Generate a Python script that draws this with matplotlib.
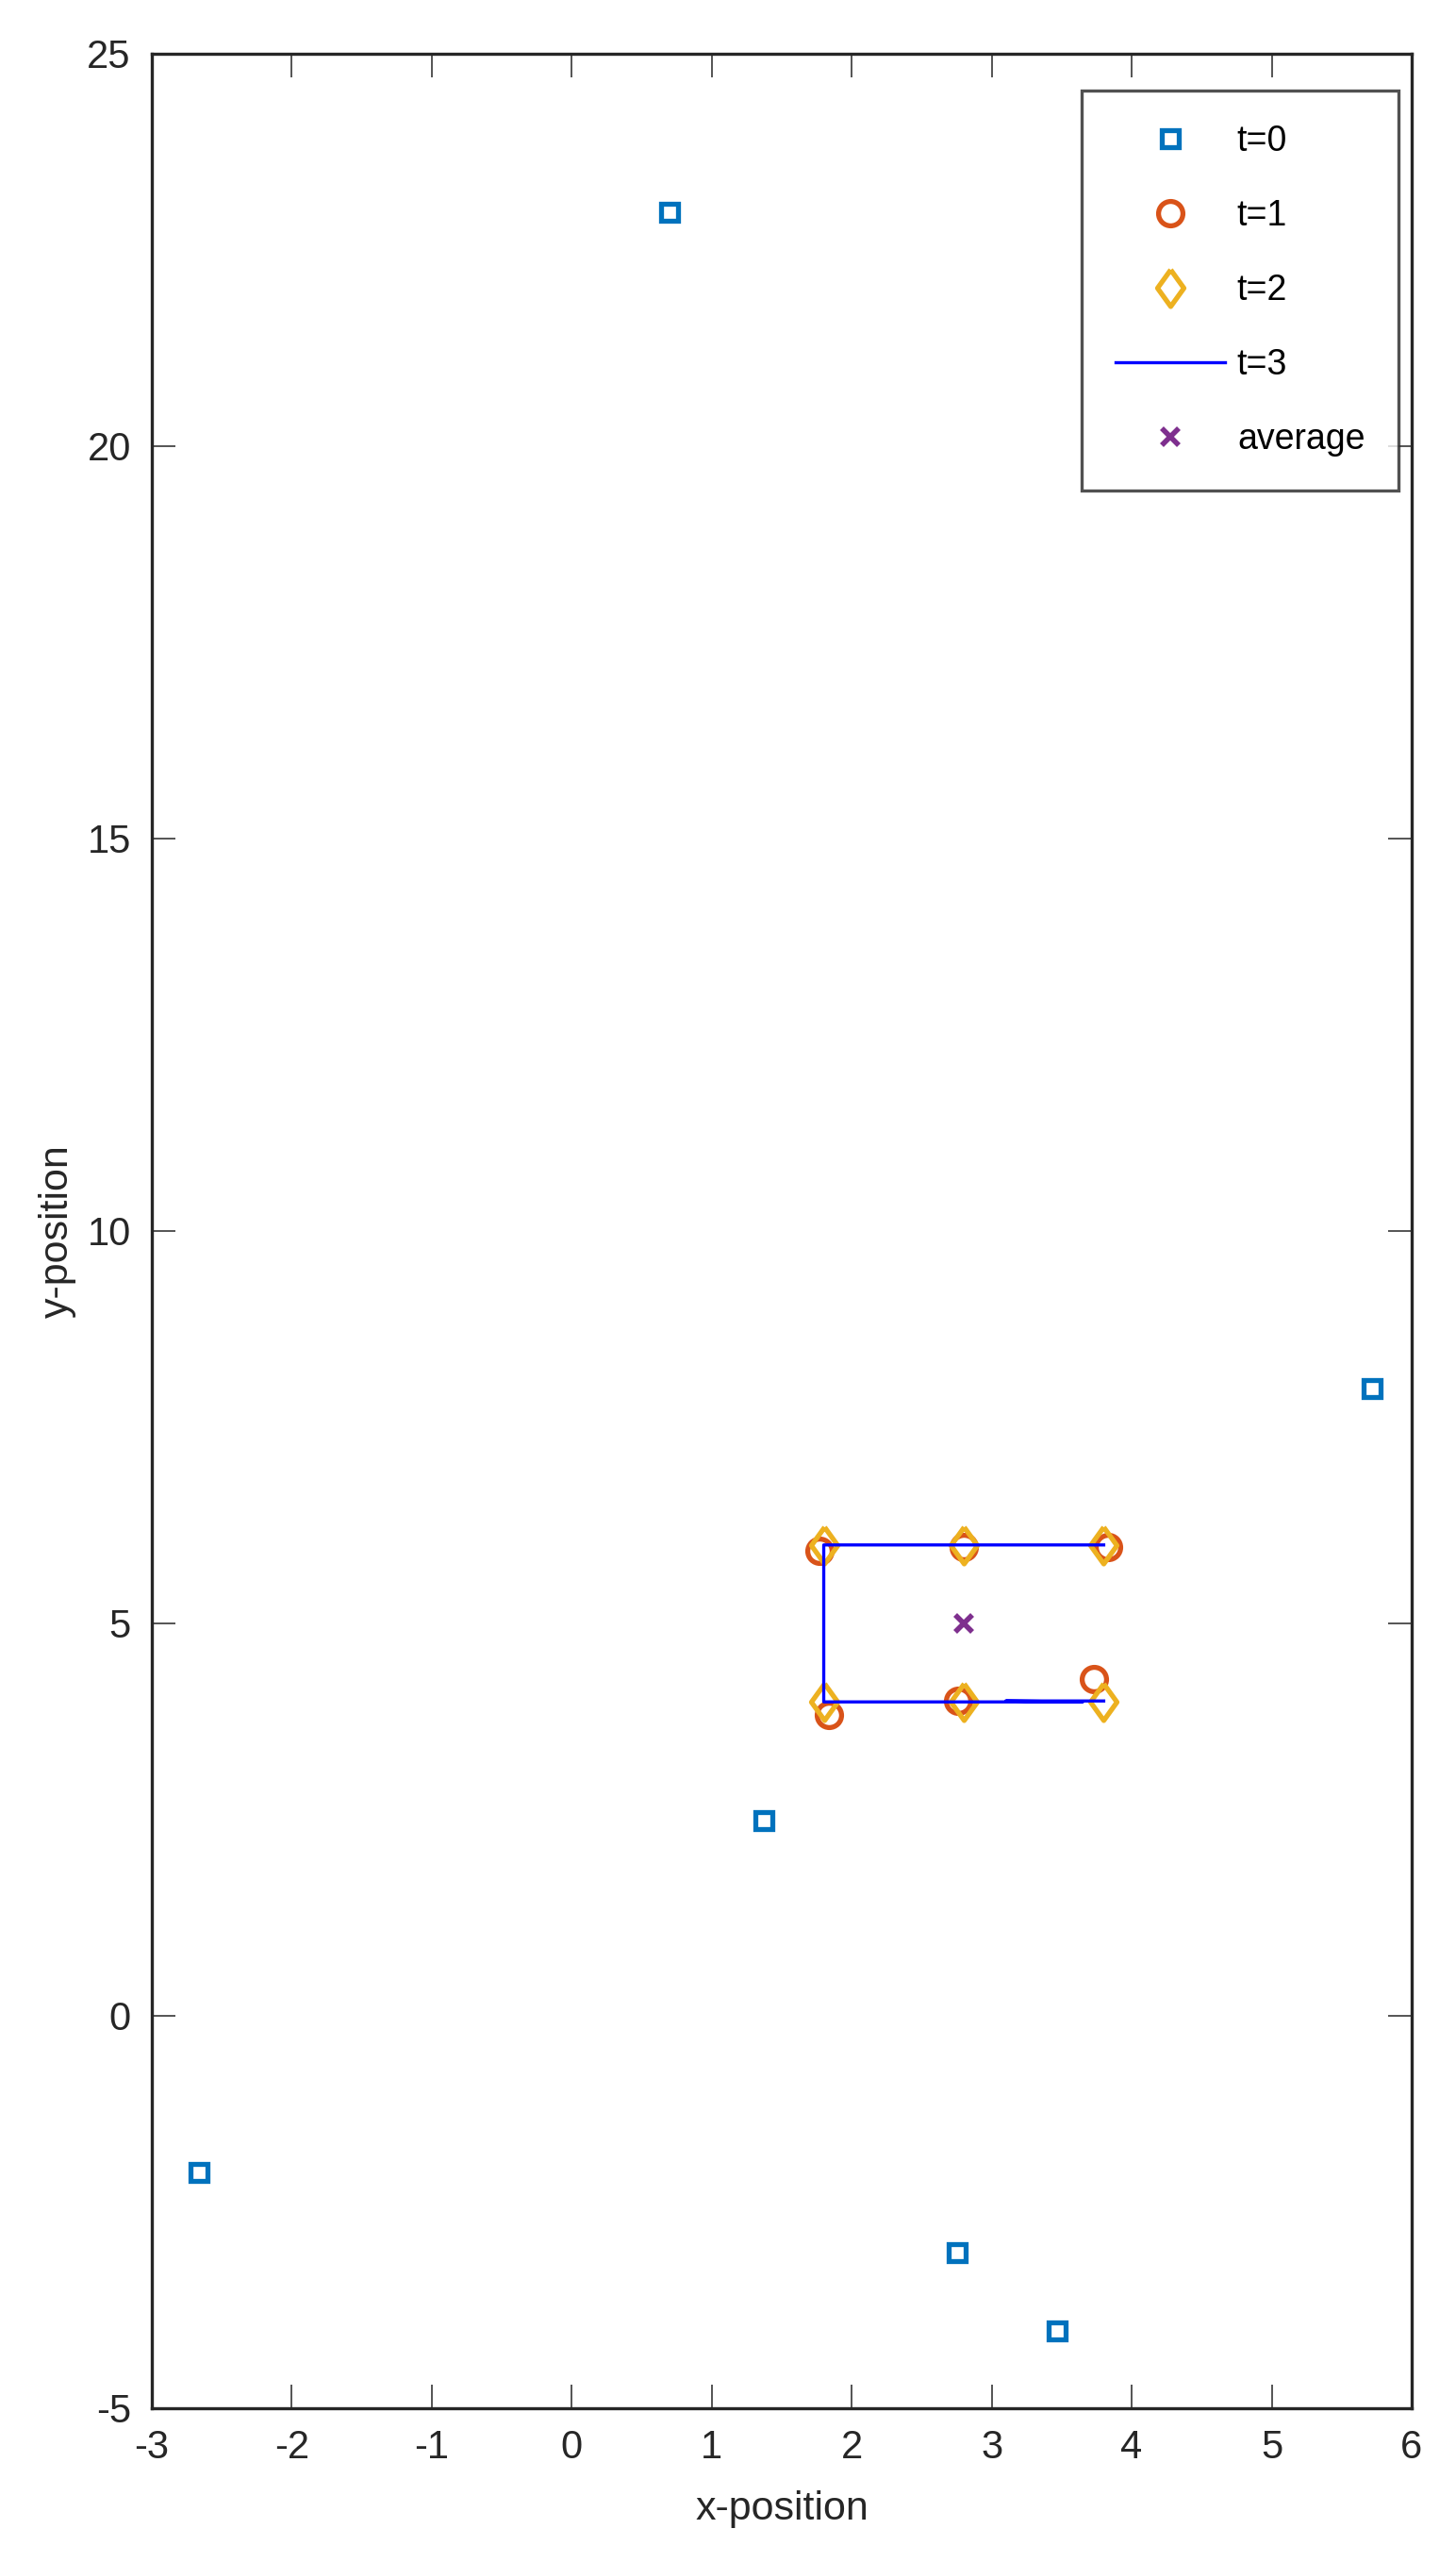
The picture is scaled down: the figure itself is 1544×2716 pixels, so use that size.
import matplotlib
matplotlib.use("Agg")
import matplotlib.pyplot as plt

plt.rcParams['font.family'] = ['Liberation Sans', 'DejaVu Sans']

# t=0 positions
x0 = [0.70, 5.72, 1.37, -2.66, 2.75, 3.47]
y0 = [22.98, 7.99, 2.49, -2.00, -3.02, -4.02]
# t=1 positions
x1 = [1.77, 2.80, 3.83, 1.84, 2.76, 3.73]
y1 = [5.92, 5.97, 5.97, 3.84, 4.02, 4.29]
# t=2 positions
x2 = [1.80, 2.80, 3.80, 1.80, 2.80, 3.80]
y2 = [6.00, 6.00, 6.00, 4.00, 4.00, 4.00]
# t=3 path
x3 = [3.80, 2.80, 1.80, 1.80, 2.80, 3.65, 3.10, 3.80]
y3 = [6.00, 6.00, 6.00, 4.00, 4.00, 4.00, 4.012, 4.012]
# average
xa = [2.80]
ya = [5.00]

xticks = list(range(-3, 7))
yticks = [-5, 0, 5, 10, 15, 20, 25]

W, H, DPI = 1544, 2716, 200
fig = plt.figure(figsize=(W / DPI, H / DPI), dpi=DPI)
ax = fig.add_axes([161 / W, 1 - 2553 / H, (1497 - 161) / W, (2553 - 57) / H])

diamond = [(0, 1), (0.72, 0), (0, -1), (-0.72, 0), (0, 1)]

ax.plot(x0, y0, linestyle='none', marker='s', markersize=6.2, markeredgewidth=1.9,
        markerfacecolor='none', markeredgecolor='#0072BD', label='t=0')
ax.plot(x1, y1, linestyle='none', marker='o', markersize=9.3, markeredgewidth=1.9,
        markerfacecolor='none', markeredgecolor='#D95319', label='t=1')
ax.plot(x2, y2, linestyle='none', marker=diamond, markersize=14, markeredgewidth=1.9,
        markerfacecolor='none', markeredgecolor='#EDB120', label='t=2')
ax.plot(x3, y3, color='#0000FF', linewidth=1.2, label='t=3')
ax.plot(xa, ya, linestyle='none', marker='x', markersize=6.5, markeredgewidth=2.0,
        color='#7E2F8E', label='average')

ax.set_xlim(-3, 6)
ax.set_ylim(-5, 25)
ax.set_xticks(xticks)
ax.set_yticks(yticks)
ax.set_xticklabels([str(v) for v in xticks])
ax.set_yticklabels([str(v) for v in yticks])

for sp in ax.spines.values():
    sp.set_color('#262626')
    sp.set_linewidth(1.2)
ax.tick_params(axis='both', which='both', direction='in', length=9, width=0.55,
               color='#262626', labelcolor='#262626', labelsize=15,
               top=True, right=True)
ax.tick_params(axis='x', pad=8)
ax.tick_params(axis='y', pad=8)

ax.set_xlabel('x-position', fontsize=15.5, color='#262626', labelpad=9)
ax.set_ylabel('y-position', fontsize=15.5, color='#262626', labelpad=4)

leg = ax.legend(loc='upper right', bbox_to_anchor=(1483 / W, 1 - 96 / H),
                bbox_transform=fig.transFigure, borderaxespad=0,
                fontsize=13.5, frameon=True, fancybox=False, edgecolor='#262626',
                handlelength=3.1, handletextpad=0.35, labelspacing=1.15,
                borderpad=0.95, numpoints=1)
leg.get_frame().set_linewidth(1.2)
for t in leg.get_texts():
    t.set_color('black')

fig.savefig('out.png', dpi=DPI, facecolor='white')
